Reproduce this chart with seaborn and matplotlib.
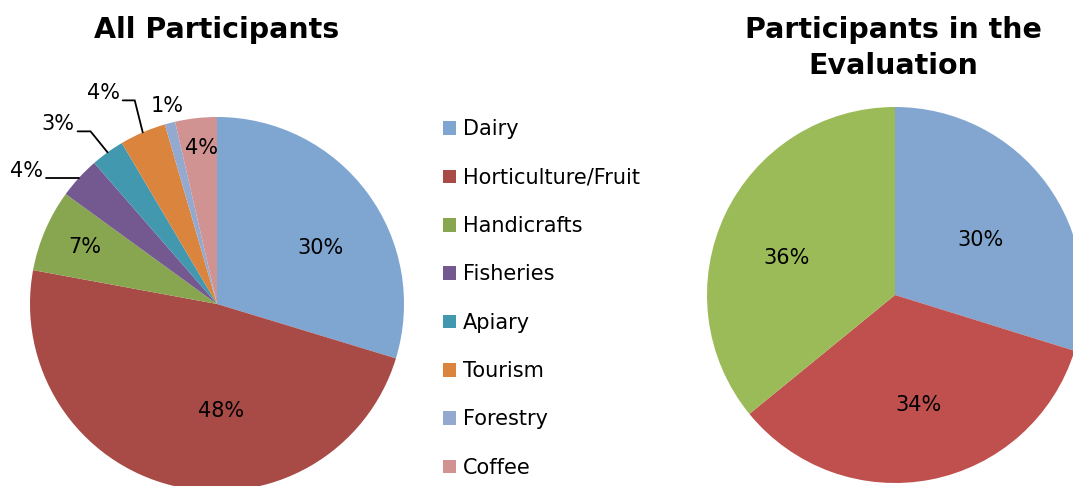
import numpy as np
import matplotlib
matplotlib.use("Agg")
import matplotlib.pyplot as plt
import seaborn as sns
from matplotlib.patches import Patch

sns.set_theme(style="white")
plt.rcParams["font.family"] = ["DejaVu Sans"]
plt.rcParams["text.color"] = "black"

# data
sectors = ["Dairy", "Horticulture/Fruit", "Handicrafts", "Fisheries",
           "Apiary", "Tourism", "Forestry", "Coffee"]
all_share = [29.7, 48.2, 7.1, 3.6, 2.9, 4.0, 0.9, 3.6]
all_labels = ["30%", "48%", "7%", "4%", "3%", "4%", "1%", "4%"]

eval_sectors = ["Dairy", "Horticulture/Fruit", "Handicrafts"]
eval_share = [29.8, 34.3, 35.9]
eval_labels = ["30%", "34%", "36%"]

left_pal = sns.color_palette(["#7fa5d1", "#a84a46", "#88a54f", "#735990",
                              "#4198af", "#db843d", "#93a9cf", "#d19392"])
right_pal = sns.color_palette(["#82a6d0", "#c0504d", "#9bbb59"])

W, H = 1073, 486
fig = plt.figure(figsize=(W / 100, H / 100), dpi=100)
FS = 15


def pie_axes(cx, cy, r):
    # axes box that exactly covers a pie of radius r (pixels) centred at cx, cy
    ax = fig.add_axes([(cx - r) / W, (H - cy - r) / H, 2 * r / W, 2 * r / H])
    ax.axis("off")
    return ax


def inner_label(ax, w, text, r, nudge):
    a = np.deg2rad((w.theta1 + w.theta2) / 2 + nudge)
    ax.text(r * np.cos(a), r * np.sin(a), text, ha="center", va="center",
            fontsize=FS)


# ---- left pie: all participants
R1 = 187
ax1 = pie_axes(217, 304, R1)
wedges, _ = ax1.pie(all_share, colors=left_pal, startangle=90, counterclock=False,
                    radius=1, wedgeprops=dict(linewidth=0), frame=False)
ax1.set_xlim(-1, 1)
ax1.set_ylim(-1, 1)

# label placement: inside (radius, angle nudge) or outside with leader line
inside = {0: (0.63, -8), 1: (0.57, 15.6), 2: (0.77, 0), 7: (0.84, -1)}
# outside: elbow offset from edge point (px), horizontal line length (px)
outside = {3: ((0, 0), 33), 4: ((-17, 21), 13), 5: ((-8, 32), 12)}

for i, w in enumerate(wedges):
    mid = np.deg2rad((w.theta1 + w.theta2) / 2)
    if i in inside:
        inner_label(ax1, w, all_labels[i], *inside[i])
    elif i in outside:
        (ex, ey), ln = outside[i]
        x0, y0 = np.cos(mid), np.sin(mid)
        x1, y1 = x0 + ex / R1, y0 + ey / R1
        x2 = x1 - ln / R1
        ax1.plot([x0, x1, x2], [y0, y1, y1], color="black", lw=1.3,
                 clip_on=False, solid_joinstyle="miter")
        ax1.text(x2 - 3 / R1, y1 - 3 / R1, all_labels[i], ha="right", va="bottom",
                 fontsize=FS)
    else:
        x0, y0 = np.cos(mid), np.sin(mid)
        ax1.text(x0 - 3 / R1, y0 + 7 / R1, all_labels[i], ha="center", va="bottom",
                 fontsize=FS)

fig.text(217 / W, 1 - 30 / H, "All Participants", ha="center", va="center",
         fontsize=20.5, fontweight="bold")

handles = [Patch(facecolor=c, edgecolor="none") for c in left_pal]
fig.legend(handles, sectors, loc="upper left", bbox_to_anchor=(433 / W, 1 - 109 / H),
           frameon=False, fontsize=FS, handlelength=0.62, handleheight=0.62,
           handletextpad=0.3, labelspacing=1.36, borderpad=0)

# ---- right pie: participants in the evaluation
ax2 = pie_axes(895, 295, 188)
wedges2, _ = ax2.pie(eval_share, colors=right_pal, startangle=90,
                     counterclock=False, radius=1,
                     wedgeprops=dict(linewidth=0), frame=False)
ax2.set_xlim(-1, 1)
ax2.set_ylim(-1, 1)
for w, t, (r, nudge) in zip(wedges2, eval_labels, [(0.54, -3.5), (0.6, 0.8), (0.61, 6.4)]):
    inner_label(ax2, w, t, r, nudge)

fig.text(893 / W, 1 - 48 / H, "Participants in the\nEvaluation", ha="center",
         va="center", fontsize=20.5, fontweight="bold", linespacing=1.38)

fig.savefig("out.png", dpi=100, facecolor="white")
